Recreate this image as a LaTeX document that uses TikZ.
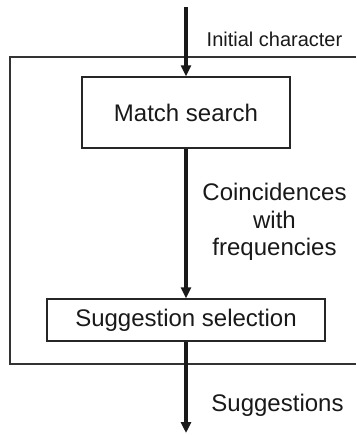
\documentclass[tikz,border=0pt]{standalone}
\usepackage{fontspec}
\setmainfont{Liberation Sans}
\usetikzlibrary{arrows.meta}
\begin{document}
\begin{tikzpicture}[x=1pt,y=-1pt,
  box/.style={draw=black!85,line width=1.3pt,inner sep=0pt,font=\fontsize{24}{28}\selectfont,text=black!90},
  flow/.style={line width=3.2pt,black!90,-{Triangle[length=11pt,width=10pt]}},
  lbl/.style={font=\fontsize{24}{27.5}\selectfont,align=center,text=black!90,inner sep=0pt},
  frame/.style={draw=black!80,line width=1.3pt}]
\useasboundingbox (0,0) rectangle (356,435);
\draw[frame] (356,57) -- (10,57) -- (10,364) -- (356,364);
\node[box,minimum width=208pt,minimum height=71pt] (match) at (186,112.5) {Match search};
\node[box,minimum width=278pt,minimum height=42pt] (sel) at (186,320) {Suggestion selection};
\coordinate (in) at (186,7);
\coordinate (out) at (186,433);
\draw[flow] (in) -- (match.north);
\draw[flow] (match.south) -- (sel.north);
\draw[flow] (sel.south) -- (out);
\node[lbl,font=\fontsize{20}{24}\selectfont] (ic) at (274.5,39) {Initial character};
\node[lbl] (coin) at (274.5,222) {Coincidences\\with\\frequencies};
\node[lbl] (sug) at (277.5,405) {Suggestions};
\end{tikzpicture}
\end{document}
